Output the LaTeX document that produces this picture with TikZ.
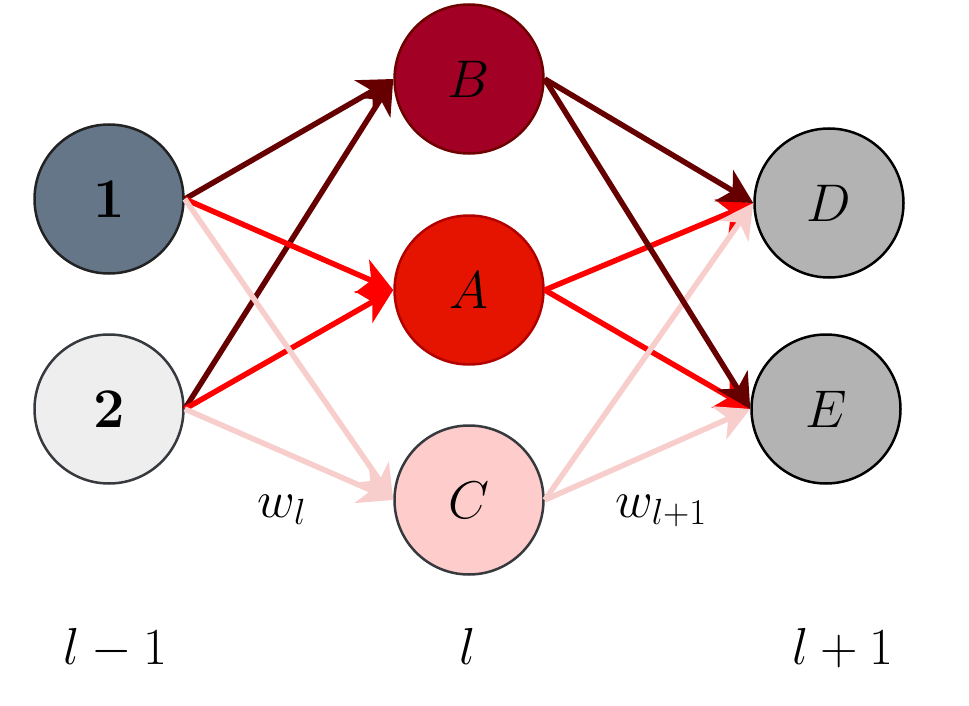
\RequirePackage{fix-cm}
\documentclass[tikz,border=0pt]{standalone}
\usetikzlibrary{arrows.meta}
\definecolor{slate}{HTML}{647687}
\definecolor{slateb}{HTML}{222222}
\definecolor{lgray}{HTML}{EEEEEE}
\definecolor{gborder}{HTML}{36393D}
\definecolor{wine}{HTML}{A20025}
\definecolor{wineb}{HTML}{6F0000}
\definecolor{redf}{HTML}{E51400}
\definecolor{redb}{HTML}{B20000}
\definecolor{pinkf}{HTML}{FFCCCC}
\definecolor{midgray}{HTML}{B3B3B3}
\definecolor{darkarrow}{HTML}{660000}
\definecolor{redarrow}{HTML}{FF0000}
\definecolor{pinkarrow}{HTML}{F8CECC}
\tikzset{
  neuron/.style={circle, minimum size=149pt, inner sep=0pt, line width=2.5pt,
    font=\fontsize{53}{60}\selectfont},
  digitnode/.style={neuron, font=\fontsize{56}{64}\selectfont},
  lbl/.style={anchor=base, inner sep=0pt, font=\fontsize{52}{60}\selectfont},
  conn/.style={line width=5.5pt, -{Stealth[length=34pt, width=36pt, inset=10pt]}},
  darkc/.style={conn, draw=darkarrow, fill=darkarrow},
  redc/.style={conn, draw=redarrow, fill=redarrow},
  pinkc/.style={conn, draw=pinkarrow, fill=pinkarrow}
}
\begin{document}
\begin{tikzpicture}[x=1pt, y=-1pt]
\useasboundingbox (0,0) rectangle (969,706);
\node[digitnode, fill=slate, draw=slateb] (n1) at (109,199) {$\mathbf{1}$};
\node[digitnode, fill=lgray, draw=gborder] (n2) at (109,409) {$\mathbf{2}$};
\node[neuron, fill=wine, draw=wineb] (B) at (469,79) {$B$};
\node[neuron, fill=redf, draw=redb] (A) at (469,290) {$A$};
\node[neuron, fill=pinkf, draw=gborder] (C) at (469,500) {$C$};
\node[neuron, fill=midgray, draw=black] (D) at (829,203) {$D$};
\node[neuron, fill=midgray, draw=black] (E) at (826,409) {$E$};
% left layer connections
\draw[darkc] (n1.east) -- (B.west);
\draw[darkc] (n2.east) -- (B.west);
\draw[redc] (n1.east) -- (A.west);
\draw[redc] (n2.east) -- (A.west);
\draw[pinkc] (n1.east) -- (C.west);
\draw[pinkc] (n2.east) -- (C.west);
% right layer connections
\draw[redc] (A.east) -- (D.west);
\draw[redc] (A.east) -- (E.west);
\draw[pinkc] (C.east) -- (D.west);
\draw[pinkc] (C.east) -- (E.west);
\draw[darkc] (B.east) -- (D.west);
\draw[darkc] (B.east) -- (E.west);
% labels
\node[lbl] (wl) at (282,517) {$w_l$};
\node[lbl] (wl1) at (661,517) {$w_{l+1}$};
\node[lbl] (lm) at (115,664) {$l-1$};
\node[lbl] (l0) at (468,664) {$l$};
\node[lbl] (lp) at (843,664) {$l+1$};
\end{tikzpicture}
\end{document}
